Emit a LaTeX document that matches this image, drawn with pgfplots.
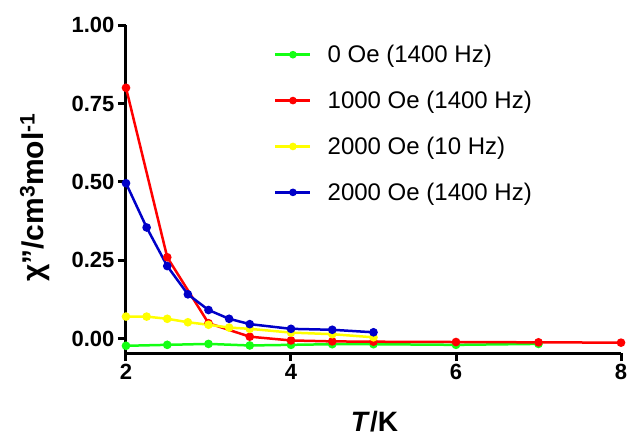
\documentclass[border=0pt]{standalone}
\usepackage{pgfplots}
\pgfplotsset{compat=1.18}
\usepackage{fontspec}
\setmainfont{Liberation Sans}
\definecolor{cgreen}{RGB}{20,255,20}
\definecolor{cred}{RGB}{255,0,0}
\definecolor{cyellow}{RGB}{255,255,0}
\definecolor{cblue}{RGB}{0,0,200}
\begin{document}
\begin{tikzpicture}[x=1pt,y=1pt]
\begin{axis}[
  name=ax,
  at={(126pt,-353pt)}, anchor=south west,
  scale only axis,
  width=495pt, height=328pt,
  xmin=2, xmax=8, ymin=-0.045, ymax=1.0,
  axis lines=left,
  axis line style={line width=3pt,-},
  xtick={2,4,6,8}, ytick={0,0.25,0.5,0.75,1.0},
  tick style={line width=3pt,black},
  tick align=outside,
  major tick length=8pt,
  /pgf/number format/assume math mode=true,
  yticklabel style={/pgf/number format/fixed,/pgf/number format/fixed zerofill,/pgf/number format/precision=2,font=\fontsize{22}{24}\selectfont\bfseries},
  xticklabel style={font=\fontsize{22}{24}\selectfont\bfseries},
  xlabel={\textbf{\textit{T}/K}},
  ylabel={\textbf{χ\symbol{34}/cm\textsuperscript{3}mol\textsuperscript{-1}}},
  xlabel style={font=\fontsize{28}{32}\selectfont, at={(axis description cs:0.502,-0.238)}, anchor=base, inner sep=0pt},
  ylabel style={font=\fontsize{30}{34}\selectfont, at={(axis description cs:-0.184,0.474)}, anchor=center, rotate=0},
  clip=false,
  every axis plot/.append style={line width=2.5pt, mark=*, mark size=3pt},
  legend style={at={(axis description cs:0.299,0.945)}, anchor=north west, draw=none, fill=none, inner sep=0pt,
    font=\fontsize{24}{28}\selectfont, row sep=23pt,
    nodes={inner sep=2pt},
    /tikz/every odd column/.append style={column sep=14pt},
    legend image code/.code={\draw[#1] (0pt,0pt) -- (35pt,0pt); \draw[#1,mark size=2.5pt,mark repeat=1] plot coordinates {(17.5pt,0pt)};}},
  legend cell align=left,
]
\addplot[color=cgreen, mark options={fill=cgreen}] coordinates {
(2,-0.022) (2.5,-0.019) (3,-0.016) (3.5,-0.021) (4,-0.019) (4.5,-0.017) (5,-0.017) (6,-0.019) (7,-0.016)};
\addlegendentry{0 Oe (1400 Hz)}
\addplot[color=cred, mark options={fill=cred}] coordinates {
(2,0.80) (2.5,0.26) (3,0.05) (3.5,0.007) (4,-0.005) (4.5,-0.008) (5,-0.009) (6,-0.010) (7,-0.011) (8,-0.012)};
\addlegendentry{1000 Oe (1400 Hz)}
\addplot[color=cyellow, mark options={fill=cyellow}] coordinates {
(2,0.071) (2.25,0.071) (2.5,0.064) (2.75,0.053) (3,0.045) (3.25,0.036) (3.5,0.032) (4,0.020) (4.5,0.015) (5,0.005)};
\addlegendentry{2000 Oe (10 Hz)}
\addplot[color=cblue, mark options={fill=cblue}] coordinates {
(2,0.496) (2.25,0.355) (2.5,0.232) (2.75,0.142) (3,0.092) (3.25,0.064) (3.5,0.047) (4,0.032) (4.5,0.029) (5,0.021)};
\addlegendentry{2000 Oe (1400 Hz)}
\end{axis}
\pgfresetboundingbox
\path[use as bounding box] (0,0) rectangle (630pt,-437pt);
\end{tikzpicture}
\end{document}
